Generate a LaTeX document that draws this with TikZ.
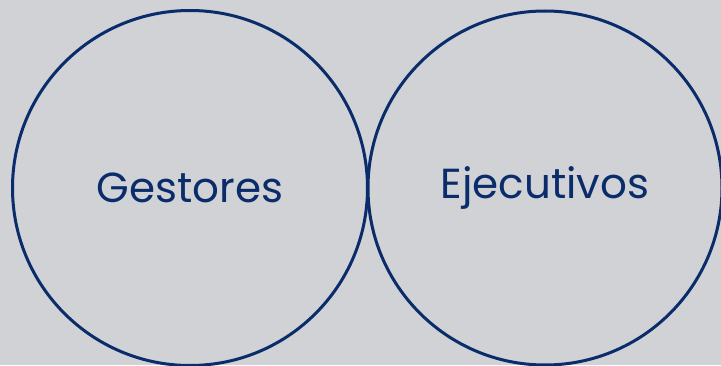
\documentclass[tikz,border=0pt]{standalone}
\usepackage{fontspec}
\setmainfont{Poppins}
\usetikzlibrary{backgrounds}

\definecolor{navy}{HTML}{0B2C6B}
\definecolor{bggray}{HTML}{D0D2D6}

\begin{document}
\begin{tikzpicture}[x=1pt, y=1pt, semithick];

\fill[bggray] (0, 0) rectangle (721, 365);
\useasboundingbox (0, 0) rectangle (721, 365);

\node (gestores) at (190, 177) [draw=navy, line width=3pt, circle, minimum size=355pt, inner sep=0pt, text=navy, font=\fontsize{42}{46}\selectfont] {Gestores};
\node (ejecutivos) at (545, 177) [draw=navy, line width=3pt, circle, minimum size=354pt, inner sep=0pt, text=navy, font=\fontsize{42}{46}\selectfont] {Ejecutivos};

\end{tikzpicture}
\end{document}
